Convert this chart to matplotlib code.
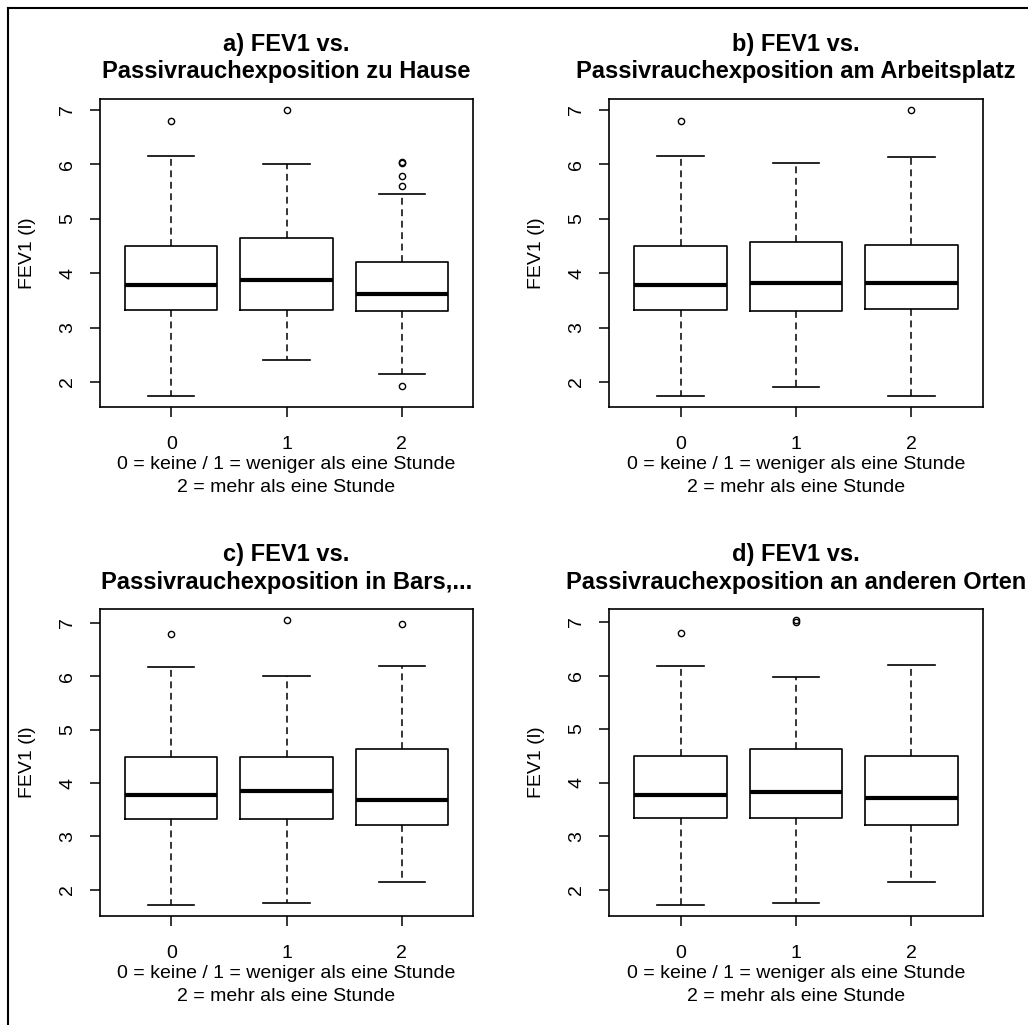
#! /usr/bin/env python3

# FEV1 vs. passive smoking exposure, four boxplots in R base graphics style

import matplotlib
matplotlib.use("Agg")
import matplotlib.pyplot as plt
from matplotlib.lines import Line2D

plt.rcParams["font.family"] = ["Liberation Sans", "DejaVu Sans"]

groups = ["0", "1", "2"]
xlabel = "0 = keine / 1 = weniger als eine Stunde\n2 = mehr als eine Stunde"
ylabel = "FEV1 (l)"
yticks = [2, 3, 4, 5, 6, 7]

titles = [
    "a) FEV1 vs.\nPassivrauchexposition zu Hause",
    "b) FEV1 vs.\nPassivrauchexposition am Arbeitsplatz",
    "c) FEV1 vs.\nPassivrauchexposition in Bars,...",
    "d) FEV1 vs.\nPassivrauchexposition an anderen Orten",
]

# a) zu Hause
a_whislo = [1.75, 2.40, 2.15]
a_q1 = [3.32, 3.32, 3.30]
a_med = [3.79, 3.87, 3.62]
a_q3 = [4.50, 4.64, 4.20]
a_whishi = [6.16, 6.00, 5.45]
a_fliers = [[6.80], [6.99], [6.05, 6.02, 5.79, 5.60, 1.93]]

# b) am Arbeitsplatz
b_whislo = [1.75, 1.91, 1.75]
b_q1 = [3.32, 3.30, 3.35]
b_med = [3.79, 3.82, 3.82]
b_q3 = [4.50, 4.58, 4.52]
b_whishi = [6.16, 6.03, 6.13]
b_fliers = [[6.80], [], [6.99]]

# c) in Bars
c_whislo = [1.72, 1.75, 2.14]
c_q1 = [3.33, 3.33, 3.21]
c_med = [3.77, 3.85, 3.68]
c_q3 = [4.49, 4.49, 4.63]
c_whishi = [6.18, 6.01, 6.20]
c_fliers = [[6.80], [7.05], [6.99]]

# d) an anderen Orten
d_whislo = [1.72, 1.75, 2.14]
d_q1 = [3.33, 3.33, 3.21]
d_med = [3.77, 3.82, 3.71]
d_q3 = [4.49, 4.63, 4.49]
d_whishi = [6.18, 5.98, 6.20]
d_fliers = [[6.80], [7.03, 7.00], []]

panels = [
    (a_whislo, a_q1, a_med, a_q3, a_whishi, a_fliers),
    (b_whislo, b_q1, b_med, b_q3, b_whishi, b_fliers),
    (c_whislo, c_q1, c_med, c_q3, c_whishi, c_fliers),
    (d_whislo, d_q1, d_med, d_q3, d_whishi, d_fliers),
]

W, H = 1028, 1025
# axes boxes in pixels: left, top, right, bottom
boxes_px = [
    (100, 99, 473, 407),
    (609, 99, 983, 407),
    (100, 609, 473, 916),
    (609, 609, 983, 916),
]
# vertical centre of the two title lines
title_px = [(44, 71), (44, 71), (555, 582), (555, 582)]


def fx(px):
    return px / W


def fy(py):
    return 1 - py / H


def draw_panel(fig, rect, stats_arrays, title, tpos):
    left, top, right, bottom = rect
    ax = fig.add_axes([fx(left), fy(bottom), fx(right - left), (bottom - top) / H])

    whislo, q1, med, q3, whishi, fliers = stats_arrays
    stats = []
    for i in range(len(groups)):
        stats.append({"whislo": whislo[i], "q1": q1[i], "med": med[i],
                      "q3": q3[i], "whishi": whishi[i], "fliers": fliers[i],
                      "label": groups[i]})

    ax.bxp(stats, positions=[1, 2, 3], widths=0.8, capwidths=0.4,
           boxprops=dict(color="black", linewidth=1.2),
           medianprops=dict(color="black", linewidth=3.0, solid_capstyle="butt"),
           whiskerprops=dict(color="black", linewidth=1.1, linestyle=(0, (4.5, 3.0))),
           capprops=dict(color="black", linewidth=1.2),
           flierprops=dict(marker="o", markersize=4.5, markerfacecolor="none",
                           markeredgecolor="black", markeredgewidth=1.0))

    # R style axis extension: 4% on each side
    allv = whislo + whishi + [v for f in fliers for v in f]
    lo, hi = min(allv), max(allv)
    pad = 0.04 * (hi - lo)
    ax.set_ylim(lo - pad, hi + pad)
    ax.set_xlim(0.5 - 0.12, 3.5 + 0.12)

    ax.set_yticks(yticks)
    ax.set_yticklabels([str(t) for t in yticks], rotation=90, va="center")
    ax.tick_params(axis="both", direction="out", length=7, width=1.1,
                   labelsize=14, color="black")
    ax.tick_params(axis="x", pad=14)
    ax.tick_params(axis="y", pad=10)
    for sp in ax.spines.values():
        sp.set_linewidth(1.2)

    ax.set_xlabel(xlabel, fontsize=14, linespacing=1.5, labelpad=2)
    ax.set_ylabel(ylabel, fontsize=14, labelpad=16.5)

    cx = fx((left + right) / 2)
    line1, line2 = title.split("\n")
    fig.text(cx, fy(tpos[0]), line1, ha="center", va="center",
             fontsize=17, fontweight="bold")
    fig.text(cx, fy(tpos[1]), line2, ha="center", va="center",
             fontsize=17, fontweight="bold")
    return ax


fig = plt.figure(figsize=(W / 100, H / 100), dpi=100)
for rect, st, title, tpos in zip(boxes_px, panels, titles, title_px):
    draw_panel(fig, rect, st, title, tpos)

# frame of the exported device window (left and top edge)
fig.add_artist(Line2D([fx(8), fx(8)], [0, fy(8)], color="black", linewidth=1.5))
fig.add_artist(Line2D([fx(8), 1], [fy(8), fy(8)], color="black", linewidth=1.5))

fig.savefig("out.png", dpi=100)
